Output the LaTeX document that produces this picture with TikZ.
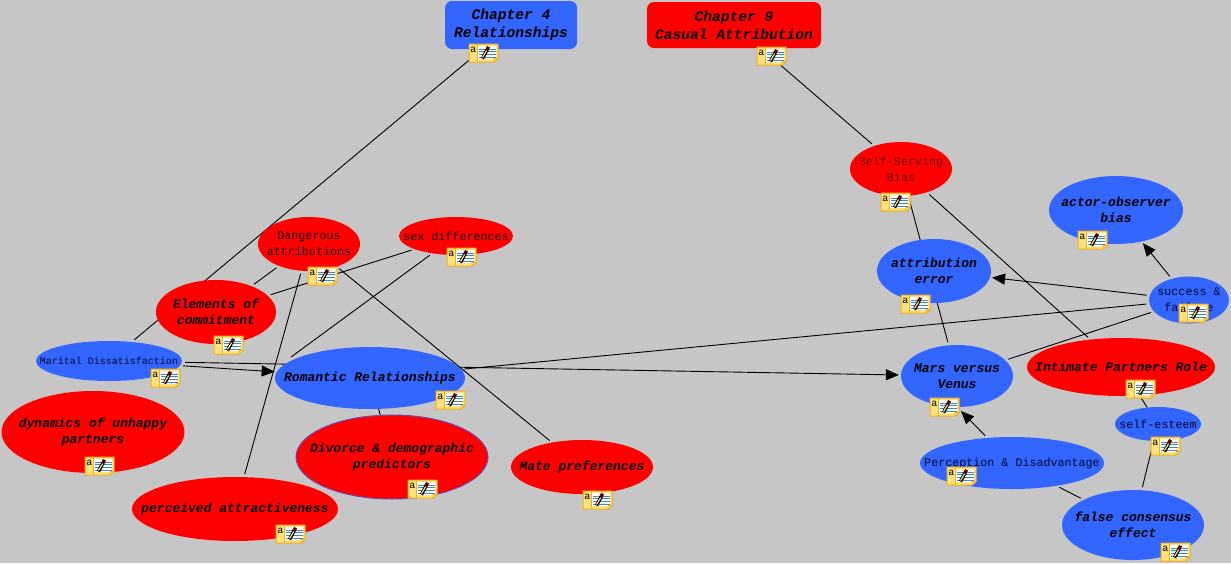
\documentclass[tikz,border=0pt]{standalone}
\usepackage{fontspec}
\setmonofont{Liberation Mono}
\usetikzlibrary{shapes.geometric,arrows.meta}
\pgfdeclarelayer{under}
\pgfsetlayers{under,main}
\definecolor{bgray}{HTML}{C6C6C6}
\definecolor{mblue}{HTML}{3366FF}
\definecolor{mred}{HTML}{FF0000}
\definecolor{inkred}{HTML}{1A0000}
\definecolor{inkself}{HTML}{6E0000}
\definecolor{inkblue}{HTML}{000630}
\definecolor{notey}{HTML}{FFE27A}
\definecolor{noteo}{HTML}{F0AE20}
\definecolor{notel}{HTML}{3F86CC}
\tikzset{
  x=1pt,y=-1pt,
  blob/.style n args={4}{ellipse,inner sep=0pt,minimum width=#1pt,minimum height=#2pt,
     label={[#3,align=center,inner sep=0pt]center:{#4}}},
  redblob/.style={fill=mred},
  blueblob/.style={fill=mblue},
  chap/.style={rounded corners=7pt,inner sep=0pt,align=center,font=\fontsize{14.6}{18}\selectfont\ttfamily\bfseries\itshape,text=black},
  big/.style={font=\fontsize{13}{16}\selectfont\ttfamily\bfseries\itshape,text=black},
  plainr/.style={font=\fontsize{11.7}{16}\selectfont\ttfamily,text=inkred},
  plains/.style={font=\fontsize{11.7}{16}\selectfont\ttfamily,text=inkself},
  plainb/.style={font=\fontsize{11.7}{16}\selectfont\ttfamily,text=inkblue},
  plainm/.style={font=\fontsize{10}{14}\selectfont\ttfamily,text=inkblue},
  link/.style={draw=black,line width=0.9pt,shorten <=3pt,shorten >=3pt},
  tiny link/.style={draw=black,line width=0.9pt},
  arrowlink/.style={link,-{Triangle[length=13pt,width=11pt]},shorten >=2pt},
  notecard/.pic={
    \path[fill=notey,draw=noteo,line width=1pt,line join=round] (0,0)--(29,0)--(29,14.5)--(25,18)--(0,18)--cycle;
    \path[fill=white] (9,2) rectangle (27,15);
    \path[draw=noteo,line width=.6pt] (8.5,0)--(8.5,18);
    \path[draw=notel,line width=1pt] (10,5)--(27,5) (10,7.7)--(27,7.7) (10,10.4)--(27,10.4) (10,13.1)--(27,13.1);
    \path[fill=notey,draw=noteo,line width=.6pt] (25,18)--(25,14.5)--(29,14.5)--cycle;
    \path[draw=black,line width=3.4pt] (13.5,14.5)--(18,6);
    \path[draw=notey,line width=1.2pt] (13.5,13.5)--(18,6);
    \path[draw=black!65!red,line width=3.4pt] (17.6,6.5)--(19.6,2.7);
    \node[inner sep=0pt,font=\fontsize{10}{10}\selectfont\ttfamily,text=black] at (4.3,5.5) {a};
  }
}
\begin{document}
\begin{tikzpicture}
\useasboundingbox (0,0) rectangle (1231,563);
\begin{pgfonlayer}{under}
\fill[bgray] (0,0) rectangle (1231,563);
\end{pgfonlayer}

\node[chap,fill=mblue,minimum width=132pt,minimum height=48pt] (ch4) at (511,25) {Chapter 4\\Relationships};
\node[chap,fill=mred,minimum width=174pt,minimum height=46pt] (ch9) at (734,25) {Chapter 9\\Casual Attribution};

\node[blob={102}{54}{plains}{Self-Serving\\Bias},redblob] (self) at (901,169) {};
\node[blob={134}{68}{big}{actor-observer\\bias},blueblob] (actor) at (1116,210) {};
\node[blob={114}{64}{big}{attribution\\error},blueblob] (attr) at (934,271) {};
\node[blob={80}{47}{plainb}{success \&\\failure},blueblob] (succ) at (1189,300) {};
\node[blob={112}{62}{big}{Mars versus~\\Venus},blueblob] (mars) at (957,376) {};
\node[blob={188}{58}{big}{Intimate Partners Role},redblob] (intim) at (1121,367) {};
\node[blob={86}{34}{plainb}{self-esteem},blueblob] (esteem) at (1158,424) {};
\node[blob={184}{52}{plainb}{Perception \& Disadvantage},blueblob] (percep) at (1012,463) {};
\node[blob={142}{70}{big}{false consensus\\effect},blueblob] (false) at (1133,525) {};
\node[blob={102}{54}{plainr}{Dangerous\\attributions},redblob] (danger) at (309,244) {};
\node[blob={114}{38}{plainr}{sex differences},redblob] (sex) at (456,236) {};
\node[blob={120}{64}{big}{Elements of~\\commitment},redblob] (elem) at (216,312) {};
\node[blob={146}{40}{plainm}{Marital Dissatisfaction},blueblob] (marital) at (109,361) {};
\node[blob={190}{62}{big}{Romantic Relationships},blueblob] (rom) at (370,378) {};
\node[blob={183}{82}{big}{dynamics of unhappy~\\partners},redblob] (dyn) at (93,432) {};
\node[blob={192}{84}{big}{Divorce \& demographic\\predictors},redblob,draw=mblue!70!red,line width=1pt] (div) at (392,457) {};
\node[blob={206}{64}{big}{perceived attractiveness},redblob] (attract) at (235,509) {};
\node[blob={142}{54}{big}{Mate preferences},redblob] (mate) at (582,467) {};
\coordinate (romfree) at (291,357);
\coordinate (marstip) at (961,411);

\begin{pgfonlayer}{under}
\draw[link] (ch4) -- (marital);
\draw[link] (ch9) -- (self);
\draw[link] (self) -- (mars);
\draw[link] (self) -- (intim);
\draw[arrowlink] (succ) -- (actor);
\draw[arrowlink] (succ) -- (attr);
\draw[link] (succ) -- (rom);
\draw[link] (succ) -- (mars);
\draw[arrowlink] (marital) -- (mars);
\draw[arrowlink] (marital) -- (rom);
\draw[link] (elem) -- (sex);
\draw[link] (elem) -- (danger);
\draw[link] (danger) -- (mate);
\draw[link] (danger) -- (attract);
\draw[link,shorten >=0pt] (sex) -- (romfree);
\draw[tiny link] (rom) -- (div);
\draw[tiny link] (intim) -- (esteem);
\draw[link] (esteem) -- (false);
\draw[link] (percep) -- (false);
\draw[arrowlink,shorten >=0pt] (percep) -- (marstip);
\end{pgfonlayer}

\foreach \nx/\ny in {469/44,757/47,308/267,447/248,214/336,151/369,436/391,881/193,1078/231,901/295,1179/304,930/398,1126/380,1151/437,947/467,1161/543,85/457,408/480,276/525,583/491}
  \pic at (\nx,\ny) {notecard};
\end{tikzpicture}
\end{document}
